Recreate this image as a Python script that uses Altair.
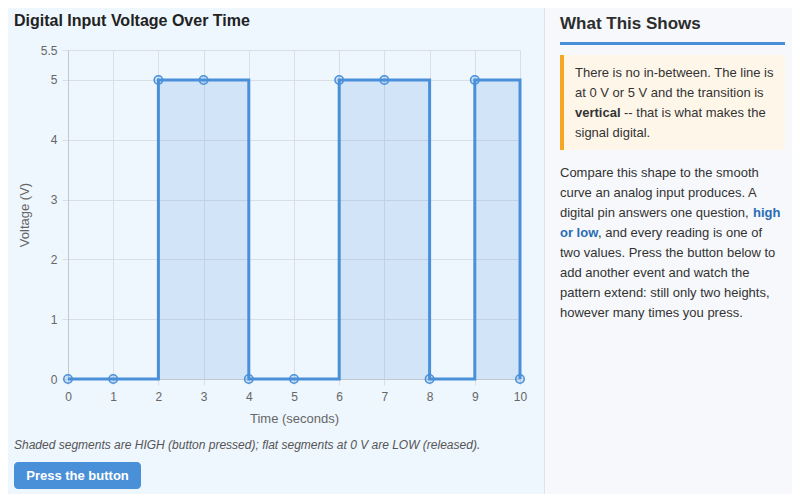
import altair as alt
import pandas as pd

# ---- data ----
time_s = [0, 1, 2, 3, 4, 5, 6, 7, 8, 9, 10]
voltage = [0, 0, 5, 5, 0, 0, 5, 5, 0, 5, 0]
x_ticks = [0, 1, 2, 3, 4, 5, 6, 7, 8, 9, 10]
y_ticks = [0, 1, 2, 3, 4, 5, 5.5]

chart_title = "Digital Input Voltage Over Time"
caption = "Shaded segments are HIGH (button pressed); flat segments at 0 V are LOW (released)."
button_label = "Press the button"
side_title = "What This Shows"
quote_lines = [
    "There is no in-between. The line is",
    "at 0 V or 5 V and the transition is",
    None,
    "signal digital.",
]
para_lines = [
    "Compare this shape to the smooth",
    "curve an analog input produces. A",
    None,
    None,
    "two values. Press the button below to",
    "add another event and watch the",
    "pattern extend: still only two heights,",
    "however many times you press.",
]

df = pd.DataFrame({"t": time_s, "v": voltage})

# layout (page pixel -> plot-relative)
PL, PT = 68, 50
W, H = 452, 329
CW, CH = 784, 486


def px(x):
    return x - PL


def py(y):
    return y - PT


BLUE = "#4a90d9"
blank = alt.Data(values=[{"k": 1}])

base = alt.Chart(df).encode(
    x=alt.X(
        "t:Q",
        scale=alt.Scale(domain=[0, 10], nice=False, zero=False),
        axis=alt.Axis(values=x_ticks, title="Time (seconds)", labelFlush=False,
                      labelPadding=6, titlePadding=10, format=".2~g"),
    ),
    y=alt.Y(
        "v:Q",
        scale=alt.Scale(domain=[0, 5.5], nice=False),
        axis=alt.Axis(values=y_ticks, title="Voltage (V)", labelPadding=5,
                      titlePadding=9, format=".2~g"),
    ),
)

area = base.mark_area(interpolate="step-after", color=BLUE, opacity=0.17)
line = base.mark_line(interpolate="step-after", color=BLUE, strokeWidth=3)
pts = base.mark_point(shape="circle", size=72, fill=BLUE, fillOpacity=0.22,
                      stroke=BLUE, strokeWidth=1.5, opacity=1)


def rect(x1, x2, y1, y2, color, radius=0):
    return alt.Chart(blank).mark_rect(color=color, cornerRadius=radius).encode(
        x=alt.value(px(x1)), x2=alt.value(px(x2)),
        y=alt.value(py(y1)), y2=alt.value(py(y2)))


def txt(s, x, y, size=13, weight="normal", color="#333333", style="normal", align="left"):
    return alt.Chart(blank).mark_text(
        fontSize=size, fontWeight=weight, color=color, fontStyle=style,
        align=align, baseline="middle", font="Liberation Sans",
    ).encode(x=alt.value(px(x)), y=alt.value(py(y)), text=alt.value(s))


layers = [
    # sidebar background + border
    rect(545, 8 + CW, 8, 8 + CH, "#f6f8fb"),
    rect(544, 545, 8, 8 + CH, "#dfe4ea"),
    # sidebar title and underline
    txt(side_title, 560, 24, size=17, weight="bold", color="#2d2d2d"),
    rect(560, 785, 42, 45, BLUE),
    # callout
    rect(560, 785, 55, 150, "#fef7e9"),
    rect(560, 564, 55, 150, "#f5a623"),
]

q_y = [73, 93, 113, 133]
for s, yy in zip(quote_lines, q_y):
    if s:
        layers.append(txt(s, 575, yy))
layers.append(txt("vertical", 575, 113, weight="bold"))
layers.append(txt("-- that is what makes the", 624, 113))

p_y = [173, 193, 213, 233, 253, 273, 293, 313]
for s, yy in zip(para_lines, p_y):
    if s:
        layers.append(txt(s, 560, yy))
layers.append(txt("digital pin answers one question,", 560, 213))
layers.append(txt("high", 753, 213, weight="bold", color="#2a6db3"))
layers.append(txt("or low", 560, 233, weight="bold", color="#2a6db3"))
layers.append(txt(", and every reading is one of", 598, 233))

# left panel texts
layers.append(txt(chart_title, 14, 21, size=16, weight="bold", color="#222222"))
layers.append(txt(caption, 14, 445, size=12, style="italic", color="#555555"))
layers.append(rect(14, 141, 462, 489, BLUE, radius=4))
layers.append(txt(button_label, 77.5, 476, size=13, weight="bold", color="#ffffff", align="center"))

chart = alt.layer(area, line, pts, *layers).properties(
    width=W, height=H,
    autosize=alt.AutoSizeParams(type="none"),
    padding={"left": PL - 8, "top": PT - 8, "right": CW - (PL - 8) - W, "bottom": CH - (PT - 8) - H},
    background="#eef6fe",
).configure_view(stroke=None).configure_axis(
    gridColor="#d9dfe6",
    tickColor="#d9dfe6",
    tickSize=6,
    domainColor="#c3c8ce",
    labelColor="#666666",
    titleColor="#666666",
    labelFontSize=12,
    titleFontSize=13,
    titleFontWeight="normal",
    labelFont="Liberation Sans",
    titleFont="Liberation Sans",
)

chart.save("out.html", embed_options={"renderer": "svg", "actions": False})
